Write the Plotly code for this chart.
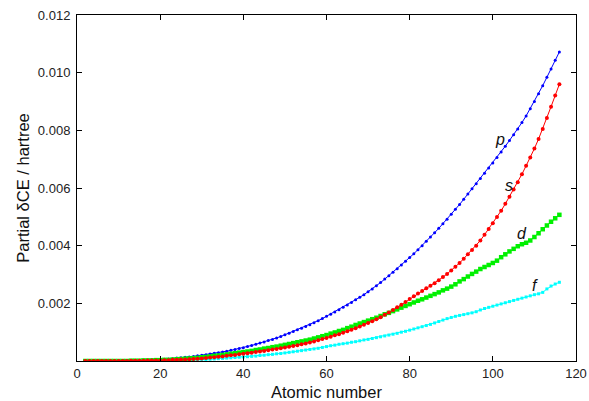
import plotly.graph_objects as go

atomic_number = list(range(2, 117))

s_values = [0.0]*11 + [
    0.00001, 0.00001, 0.00001, 0.00001, 0.00002, 0.00002, 0.00002, 0.00002,
    0.00003, 0.00003, 0.00004, 0.00004, 0.00005, 0.00005, 0.00006, 0.00007, 0.00008, 0.00009,
    0.00010, 0.00012, 0.00013, 0.00015, 0.00016, 0.00018, 0.00020, 0.00021, 0.00023, 0.00025,
    0.00027, 0.00029, 0.00031, 0.00033, 0.00035, 0.00037, 0.00040, 0.00042, 0.00044, 0.00047,
    0.00049, 0.00052, 0.00055, 0.00058, 0.00061, 0.00064, 0.00068, 0.00072, 0.00076, 0.00080,
    0.00084, 0.00089, 0.00093, 0.00098, 0.00103, 0.00108, 0.00114, 0.00120, 0.00126, 0.00132,
    0.00138, 0.00145, 0.00152, 0.00160, 0.00168, 0.00177, 0.00186, 0.00195, 0.00205, 0.00215,
    0.00225, 0.00234, 0.00243, 0.00252, 0.00261, 0.00270, 0.00280, 0.00291, 0.00302, 0.00314,
    0.00327, 0.00340, 0.00355, 0.00370, 0.00385, 0.00400, 0.00418, 0.00438, 0.00458, 0.00478,
    0.00499, 0.00521, 0.00545, 0.00570, 0.00595, 0.00620, 0.00648, 0.00677, 0.00706, 0.00737,
    0.00770, 0.00805, 0.00843, 0.00882, 0.00921, 0.00960]

p_values = [0.0]*9 + [
    0.00001, 0.00001, 0.00001, 0.00002, 0.00002, 0.00003, 0.00003, 0.00004, 0.00004, 0.00005,
    0.00006, 0.00007, 0.00008, 0.00010, 0.00011, 0.00013, 0.00014, 0.00016, 0.00018, 0.00020,
    0.00022, 0.00024, 0.00027, 0.00029, 0.00031, 0.00034, 0.00037, 0.00040, 0.00043, 0.00046,
    0.00050, 0.00054, 0.00058, 0.00062, 0.00066, 0.00071, 0.00075, 0.00080, 0.00085, 0.00091,
    0.00096, 0.00102, 0.00108, 0.00114, 0.00120, 0.00126, 0.00133, 0.00140, 0.00147, 0.00155,
    0.00162, 0.00170, 0.00178, 0.00186, 0.00194, 0.00203, 0.00212, 0.00221, 0.00230, 0.00240,
    0.00250, 0.00261, 0.00272, 0.00284, 0.00296, 0.00308, 0.00320, 0.00333, 0.00346, 0.00359,
    0.00372, 0.00386, 0.00400, 0.00415, 0.00430, 0.00445, 0.00460, 0.00476, 0.00492, 0.00509,
    0.00526, 0.00543, 0.00561, 0.00579, 0.00597, 0.00615, 0.00633, 0.00651, 0.00669, 0.00687,
    0.00706, 0.00725, 0.00745, 0.00765, 0.00785, 0.00805, 0.00827, 0.00850, 0.00875, 0.00900,
    0.00927, 0.00955, 0.00984, 0.01013, 0.01043, 0.01072]

d_values = [0.0]*11 + [
    0.00001, 0.00001, 0.00001, 0.00002, 0.00002, 0.00002, 0.00003, 0.00003,
    0.00004, 0.00004, 0.00005, 0.00006, 0.00007, 0.00008, 0.00009, 0.00010, 0.00011, 0.00013,
    0.00014, 0.00016, 0.00018, 0.00019, 0.00021, 0.00023, 0.00025, 0.00027, 0.00029, 0.00031,
    0.00033, 0.00035, 0.00038, 0.00040, 0.00043, 0.00045, 0.00048, 0.00050, 0.00053, 0.00056,
    0.00059, 0.00062, 0.00065, 0.00068, 0.00071, 0.00074, 0.00078, 0.00082, 0.00086, 0.00090,
    0.00095, 0.00099, 0.00104, 0.00108, 0.00114, 0.00119, 0.00125, 0.00130, 0.00135, 0.00140,
    0.00145, 0.00150, 0.00156, 0.00162, 0.00167, 0.00173, 0.00179, 0.00185, 0.00191, 0.00197,
    0.00203, 0.00209, 0.00214, 0.00220, 0.00226, 0.00232, 0.00238, 0.00245, 0.00251, 0.00258,
    0.00266, 0.00276, 0.00284, 0.00293, 0.00302, 0.00310, 0.00319, 0.00326, 0.00333, 0.00340,
    0.00348, 0.00360, 0.00370, 0.00380, 0.00389, 0.00398, 0.00405, 0.00410, 0.00418, 0.00430,
    0.00443, 0.00457, 0.00470, 0.00483, 0.00495, 0.00507]

f_values = [0.0]*19 + [
    0.00001, 0.00001, 0.00001, 0.00002, 0.00002, 0.00002, 0.00003, 0.00003, 0.00004, 0.00005,
    0.00005, 0.00006, 0.00007, 0.00008, 0.00009, 0.00010, 0.00011, 0.00012, 0.00013, 0.00014,
    0.00015, 0.00016, 0.00017, 0.00019, 0.00020, 0.00022, 0.00023, 0.00025, 0.00026, 0.00028,
    0.00030, 0.00032, 0.00034, 0.00036, 0.00038, 0.00040, 0.00042, 0.00044, 0.00047, 0.00050,
    0.00053, 0.00055, 0.00058, 0.00060, 0.00062, 0.00065, 0.00067, 0.00070, 0.00073, 0.00075,
    0.00078, 0.00081, 0.00084, 0.00087, 0.00090, 0.00093, 0.00096, 0.00100, 0.00103, 0.00107,
    0.00111, 0.00115, 0.00119, 0.00123, 0.00127, 0.00132, 0.00137, 0.00142, 0.00147, 0.00151,
    0.00155, 0.00158, 0.00161, 0.00164, 0.00167, 0.00171, 0.00177, 0.00182, 0.00186, 0.00190,
    0.00194, 0.00198, 0.00202, 0.00206, 0.00210, 0.00214, 0.00218, 0.00222, 0.00226, 0.00230,
    0.00233, 0.00238, 0.00250, 0.00260, 0.00267, 0.00273]

series_labels = ["p", "s", "d", "f"]
label_x = [101.7, 103.9, 107.0, 110.2]
label_y = [0.00769, 0.00607, 0.00441, 0.00262]

x_ticks = [0, 20, 40, 60, 80, 100, 120]
y_ticks = [0.002, 0.004, 0.006, 0.008, 0.010, 0.012]

FONT = "Liberation Sans, Arial, sans-serif"

fig = go.Figure()

def add(vals, color, symbol, size, lw=1):
    fig.add_trace(go.Scatter(
        x=atomic_number, y=vals, mode="lines+markers",
        line=dict(color=color, width=lw),
        marker=dict(color=color, symbol=symbol, size=size, line=dict(width=0)),
        showlegend=False, hoverinfo="skip"))

add(f_values, "#00ffff", "square", 3)
add(p_values, "#0000ff", "circle", 3)
add(d_values, "#00f000", "square", 4.5)
add(s_values, "#ff0000", "circle", 4)

for t, xv, yv in zip(series_labels, label_x, label_y):
    fig.add_annotation(x=xv, y=yv, xref="x", yref="y", text="<i>%s</i>" % t,
                       showarrow=False, font=dict(family=FONT, size=16, color="#111"))

axis_common = dict(showline=True, linecolor="black", linewidth=1, mirror="ticks",
                   ticks="inside", ticklen=5, tickcolor="black", showgrid=False,
                   zeroline=False, automargin=False,
                   tickfont=dict(family=FONT, size=13, color="#222"))

fig.update_xaxes(range=[0, 120], tickvals=x_ticks, ticktext=[str(v) for v in x_ticks],
                 title=dict(text="Atomic number", font=dict(family=FONT, size=16.5, color="#111"),
                            standoff=6),
                 **axis_common)
fig.update_yaxes(range=[0, 0.012], tickvals=y_ticks, ticktext=["%.3f" % v for v in y_ticks],
                 ticklabelstandoff=3,
                 title=dict(text="Partial δCE / hartree", font=dict(family=FONT, size=16.5, color="#111"),
                            standoff=4),
                 **axis_common)

fig.update_layout(width=589, height=401, margin=dict(l=77, r=13, t=15, b=40),
                  plot_bgcolor="white", paper_bgcolor="white",
                  font=dict(family=FONT))

fig.write_html("out.html", config={"displayModeBar": False},
               post_script="document.body.style.margin='0';")
